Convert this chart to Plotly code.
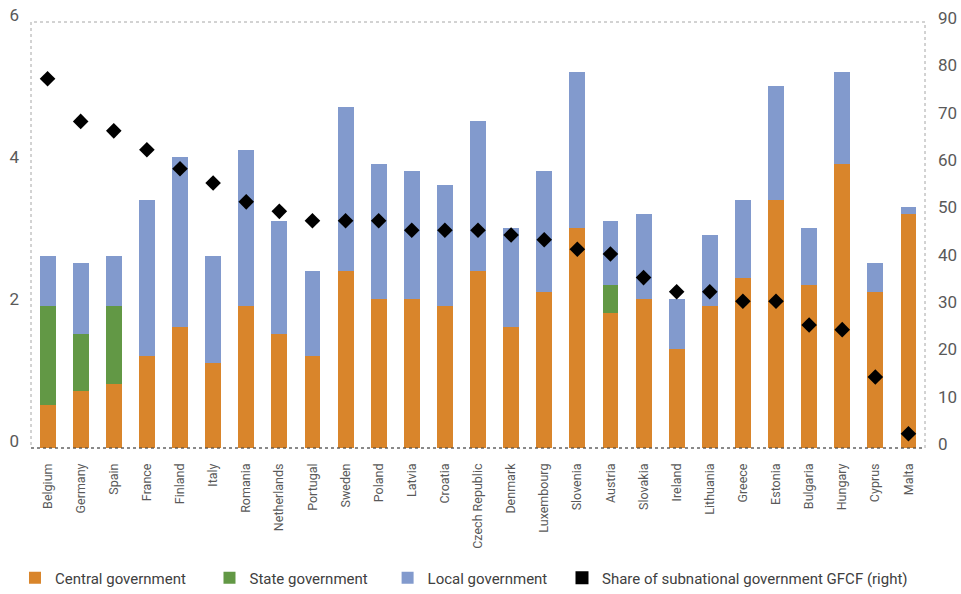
import plotly.graph_objects as go

countries = ["Belgium", "Germany", "Spain", "France", "Finland", "Italy", "Romania",
             "Netherlands", "Portugal", "Sweden", "Poland", "Latvia", "Croatia",
             "Czech Republic", "Denmark", "Luxembourg", "Slovenia", "Austria", "Slovakia",
             "Ireland", "Lithuania", "Greece", "Estonia", "Bulgaria", "Hungary", "Cyprus", "Malta"]
central = [0.6, 0.8, 0.9, 1.3, 1.7, 1.2, 2.0, 1.6, 1.3, 2.5, 2.1, 2.1, 2.0, 2.5, 1.7, 2.2,
           3.1, 1.9, 2.1, 1.4, 2.0, 2.4, 3.5, 2.3, 4.0, 2.2, 3.3]
state = [1.4, 0.8, 1.1, 0, 0, 0, 0, 0, 0, 0, 0, 0, 0, 0, 0, 0, 0, 0.4, 0, 0, 0, 0, 0, 0, 0, 0, 0]
local = [0.7, 1.0, 0.7, 2.2, 2.4, 1.5, 2.2, 1.6, 1.2, 2.3, 1.9, 1.8, 1.7, 2.1, 1.4, 1.7,
         2.2, 0.9, 1.2, 0.7, 1.0, 1.1, 1.6, 0.8, 1.3, 0.4, 0.1]
share = [78, 69, 67, 63, 59, 56, 52, 50, 48, 48, 48, 46, 46, 46, 45, 44, 42, 41, 36, 33,
         33, 31, 31, 26, 25, 15, 3]
left_ticks = [0, 2, 4, 6]
right_ticks = [0, 10, 20, 30, 40, 50, 60, 70, 80, 90]

FONT = "Roboto, Lato, sans-serif"
GRAY = "#595959"
ORANGE = "#D9852B"
GREEN = "#629845"
BLUE = "#829ACD"
NB = "\u00a0"

fig = go.Figure()
fig.add_trace(go.Bar(x=countries, y=central, name="Central government" + NB * 5,
                     marker=dict(color=ORANGE, line=dict(width=0))))
fig.add_trace(go.Bar(x=countries, y=state, name="State government" + NB * 4,
                     marker=dict(color=GREEN, line=dict(width=0))))
fig.add_trace(go.Bar(x=countries, y=local, name="Local government",
                     marker=dict(color=BLUE, line=dict(width=0))))
fig.add_trace(go.Scatter(x=countries, y=share, yaxis="y2", mode="markers",
                         name="Share of subnational government GFCF (right)",
                         showlegend=False,
                         marker=dict(symbol="diamond", size=12, color="black")))
fig.add_trace(go.Scatter(x=[None], y=[None], yaxis="y2", mode="markers",
                         name="Share of subnational government GFCF (right)",
                         legend="legend2",
                         marker=dict(symbol="square", size=13, color="black")))

legend_common = dict(orientation="h", xref="container", yref="container",
                     xanchor="left", y=0.027, yanchor="middle",
                     font=dict(size=15, color="#404040"), itemwidth=30,
                     traceorder="normal", bgcolor="rgba(0,0,0,0)")

fig.update_layout(
    width=961, height=594,
    barmode="stack", bargap=0.52,
    plot_bgcolor="white", paper_bgcolor="white",
    margin=dict(l=31, r=36, t=22, b=146),
    font=dict(family=FONT, color=GRAY, size=15),
    xaxis=dict(tickangle=-90, tickfont=dict(size=12.5, color=GRAY), showgrid=False,
               showline=False, ticks="", ticklabelstandoff=12, automargin=False,
               range=[-0.5, len(countries) - 0.5]),
    yaxis=dict(range=[0, 6], tickvals=left_ticks, showgrid=False, zeroline=False,
               tickfont=dict(size=17, color=GRAY), ticklabelshift=-7,
               ticklabelstandoff=11, automargin=False),
    yaxis2=dict(range=[0, 90], tickvals=right_ticks, overlaying="y", side="right",
                showgrid=False, zeroline=False, tickfont=dict(size=17, color=GRAY),
                ticklabelshift=-4, ticklabelstandoff=12, automargin=False),
    legend=dict(x=0.0156, **legend_common),
    legend2=dict(x=0.5848, **legend_common),
    showlegend=True,
    shapes=[
        dict(type="rect", xref="paper", yref="paper", x0=0, x1=1, y0=0, y1=1,
             line=dict(color="#A6A6A6", width=1, dash="dot"), layer="below"),
        dict(type="line", xref="paper", yref="paper", x0=0, x1=1, y0=0, y1=0,
             line=dict(color="#404040", width=1, dash="dot"), layer="above"),
    ],
)

fig.write_html("out.html", config={"displayModeBar": False},
               post_script="document.body.style.margin='0';document.body.style.overflow='hidden';")
